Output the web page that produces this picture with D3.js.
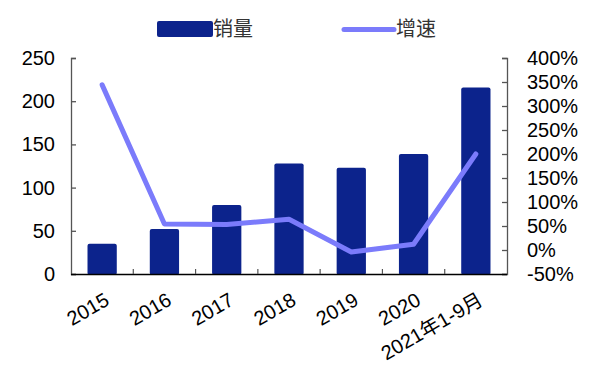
<!DOCTYPE html>
<html>
<head>
<meta charset="utf-8">
<script src="https://cdn.jsdelivr.net/npm/d3@7"></script>
<style>
  body { margin: 0; background: #fff; }
  svg { font-family: "Liberation Sans", Arial, "Noto Sans CJK SC", sans-serif; }
</style>
</head>
<body>
<script>
"use strict";

// data
let years = ["2015", "2016", "2017", "2018", "2019", "2020", "2021年1-9月"];
let sales = [35, 52, 80, 128, 123, 139, 216];
let growth = [344, 54, 53, 64, -4, 12, 200]; // percent

let leftTicks = [0, 50, 100, 150, 200, 250];
let rightTicks = [-50, 0, 50, 100, 150, 200, 250, 300, 350, 400];

let width = 600, height = 381;
let plotLeft = 71, plotRight = 507, plotTop = 58, plotBottom = 274;

let barColor = "#0c238c",
	lineColor = "#7b7bfb";

let svg = d3.select("body").append("svg")
	.attr("width", width)
	.attr("height", height);

let x = d3.scaleBand()
	.domain(years)
	.range([plotLeft, plotRight])
	.paddingInner(0.53)
	.paddingOuter(0.265);

let yLeft = d3.scaleLinear().domain([0, 250]).range([plotBottom, plotTop]);
let yRight = d3.scaleLinear().domain([-50, 400]).range([plotBottom, plotTop]);

// bars
svg.selectAll(".bar")
	.data(sales)
	.enter()
	.append("rect")
		.attr("class", "bar")
		.attr("x", (d, i) => x(years[i]))
		.attr("y", d => yLeft(d))
		.attr("width", x.bandwidth())
		.attr("height", d => yLeft(0) - yLeft(d) + 1)
		.attr("rx", 2)
		.attr("fill", barColor);

// left axis
let gl = svg.append("g")
	.attr("transform", "translate(" + plotLeft + ",0)")
	.call(d3.axisLeft(yLeft).tickValues(leftTicks).tickSize(-5).tickPadding(16));

// right axis
let gr = svg.append("g")
	.attr("transform", "translate(" + plotRight + ",0)")
	.call(d3.axisRight(yRight).tickValues(rightTicks).tickSize(-5).tickPadding(20)
		.tickFormat(d => d + "%"));

[gl, gr].forEach(g => {
	g.select(".domain").attr("stroke", "#555").attr("stroke-width", 1.3);
	g.selectAll(".tick line").attr("stroke", "#555").attr("stroke-width", 1.3);
	g.selectAll(".tick text").attr("font-size", 20).attr("fill", "#000")
		.attr("font-family", "Liberation Sans, Arial, sans-serif");
});

// bottom axis line and boundary ticks
svg.append("line")
	.attr("x1", plotLeft).attr("x2", plotRight)
	.attr("y1", plotBottom + 0.5).attr("y2", plotBottom + 0.5)
	.attr("stroke", "#000").attr("stroke-width", 1.3);

let step = x.step();
svg.selectAll(".xtick")
	.data(years.slice(1))
	.enter()
	.append("line")
		.attr("class", "xtick")
		.attr("x1", d => x(d) - (step - x.bandwidth()) / 2)
		.attr("x2", d => x(d) - (step - x.bandwidth()) / 2)
		.attr("y1", plotBottom - 5).attr("y2", plotBottom)
		.attr("stroke", "#555").attr("stroke-width", 1.2);

// x labels, rotated
svg.selectAll(".xlabel")
	.data(years)
	.enter()
	.append("text")
		.attr("class", "xlabel")
		.attr("text-anchor", "end")
		.attr("font-size", 20)
		.attr("transform", d => "translate(" + (x(d) + x.bandwidth() / 2 + 1) + "," + (plotBottom + 17) + ") rotate(-30)")
		.attr("dy", "0.75em")
		.text(d => d);

// growth line
let line = d3.line()
	.x((d, i) => x(years[i]) + x.bandwidth() / 2)
	.y(d => yRight(d));

svg.append("path")
	.datum(growth)
	.attr("d", line)
	.attr("fill", "none")
	.attr("stroke", lineColor)
	.attr("stroke-width", 5)
	.attr("stroke-linejoin", "round")
	.attr("stroke-linecap", "round");

// legend
let legend = svg.append("g").attr("font-size", 20).attr("font-family", "Noto Sans CJK SC, sans-serif");

legend.append("rect")
	.attr("x", 157).attr("y", 21).attr("width", 56).attr("height", 16)
	.attr("rx", 2).attr("fill", barColor);
legend.append("text")
	.attr("x", 213).attr("y", 29).attr("dy", "0.36em")
	.attr("fill", "#333")
	.text("销量");

legend.append("line")
	.attr("x1", 344).attr("x2", 394).attr("y1", 29.5).attr("y2", 29.5)
	.attr("stroke", lineColor).attr("stroke-width", 5).attr("stroke-linecap", "round");
legend.append("text")
	.attr("x", 396).attr("y", 29).attr("dy", "0.36em")
	.attr("fill", "#333")
	.text("增速");
</script>
</body>
</html>
